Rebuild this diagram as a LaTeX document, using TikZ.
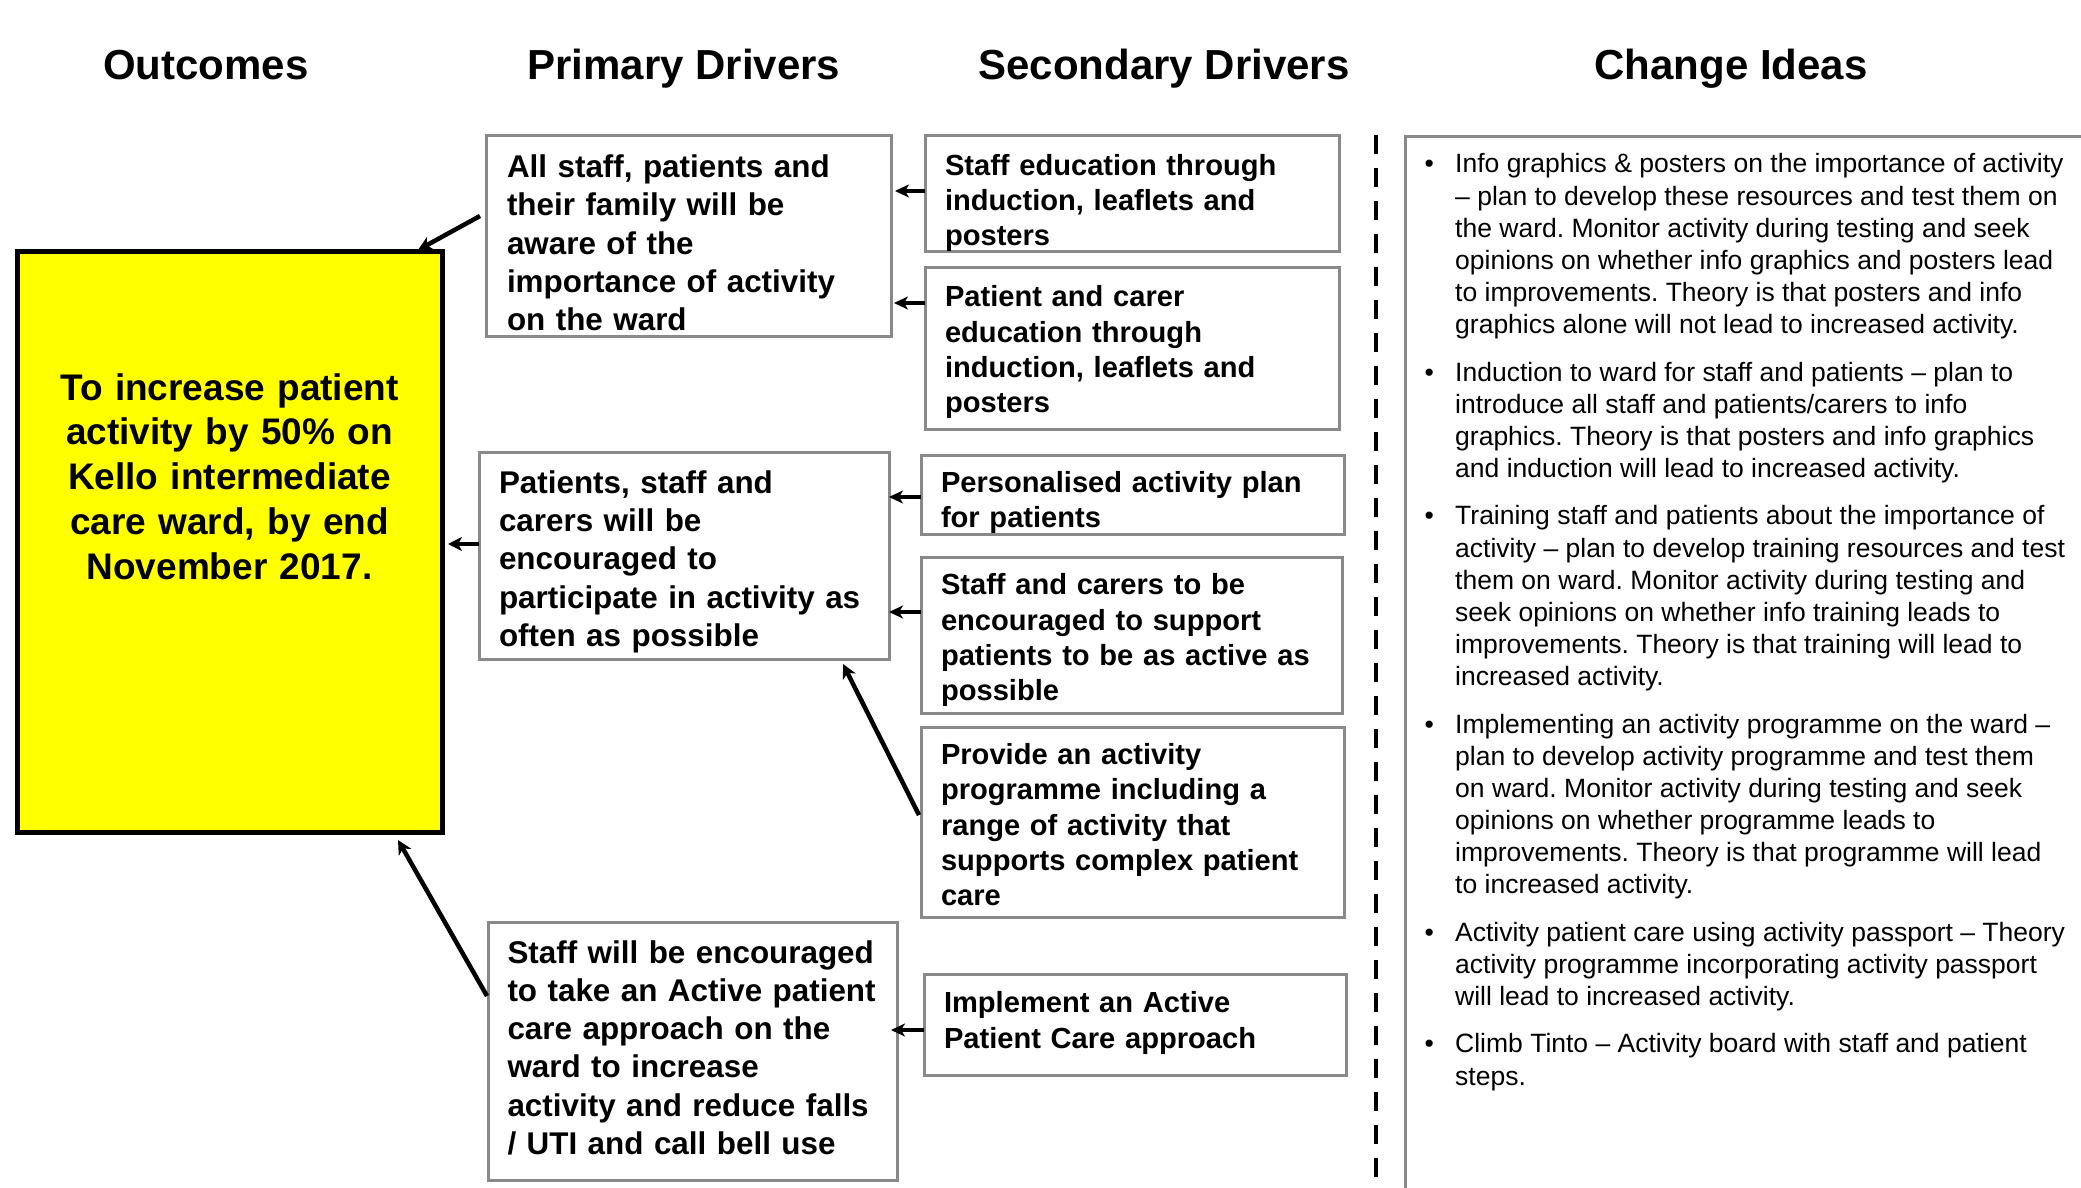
\documentclass[tikz,border=0pt]{standalone}
\usepackage{fontspec}
\setmainfont{Liberation Sans}
\usetikzlibrary{arrows.meta,calc}

\definecolor{boxgray}{RGB}{137,137,137}
\definecolor{goalyellow}{RGB}{255,255,0}

% text blocks: no hyphenation, single spaces after full stops
\newcommand{\plaintext}{\frenchspacing\hyphenpenalty=10000\exhyphenpenalty=10000}

\tikzset{
  heading/.style={font=\fontsize{42}{50}\selectfont\bfseries, anchor=base, inner sep=0pt},
  drvbox/.style={draw=boxgray, line width=3pt, fill=white, outer sep=0pt, align=left,
    inner ysep=0pt, text height=0pt},
  primary/.style={drvbox, font=\fontsize{31.4}{38.2}\selectfont\bfseries\plaintext},
  secondary/.style={drvbox, inner xsep=20pt, font=\fontsize{29.1}{35.2}\selectfont\bfseries\plaintext},
  goalbox/.style={draw=black, line width=5pt, fill=goalyellow, outer sep=0pt,
    minimum width=425pt, minimum height=581pt, inner ysep=0pt, inner xsep=10pt,
    text width=405pt, align=center, text height=0pt,
    font=\fontsize{37}{44.8}\selectfont\bfseries\plaintext},
  link/.style={line width=3.3pt, -{Stealth[length=14pt,width=13pt,inset=4pt]}},
  biglink/.style={line width=4.5pt, -{Stealth[length=14pt,width=14pt,inset=4pt]}},
}

\begin{document}
\begin{tikzpicture}[x=1pt,y=-1pt]
  % page frame
  \useasboundingbox (0,0) rectangle (2081,1188);
  \fill[white] (0,0) rectangle (2081,1188);
  \clip (0,0) rectangle (2081,1188);

  % column headings
  \node[heading] (hout) at (206,79.5) {Outcomes};
  \node[heading] (hpri) at (684,79.5) {Primary Drivers};
  \node[heading] (hsec) at (1164,79.5) {Secondary Drivers};
  \node[heading] (hchg) at (1731,79.5) {Change Ideas};

  % outcome
  \node[goalbox, text depth=282.8pt] (goal) at (229.5,541.5)
    {To increase patient\\activity by 50\% on\\Kello intermediate\\care ward, by end\\November 2017.};

  % primary drivers
  \node[primary, inner xsep=21pt, text width=363pt, minimum height=200pt, text depth=116.6pt]
    (p1) at (688.5,236)
    {All staff, patients and\\their family will be\\aware of the\\importance of activity\\on the ward};
  \node[primary, inner xsep=20pt, text width=370pt, minimum height=207pt, text depth=124pt]
    (p2) at (684,555.5)
    {Patients, staff and\\carers will be\\encouraged to\\participate in activity as\\often as possible};
  \node[primary, inner xsep=19.5pt, text width=370pt, minimum height=258pt, text depth=175.4pt]
    (p3) at (692.5,1051)
    {Staff will be encouraged\\to take an Active patient\\care approach on the\\ward to increase\\activity and reduce falls\\/ UTI and call bell use};

  % secondary drivers
  \node[secondary, text width=374pt, minimum height=115pt, text depth=36.2pt] (s1) at (1132,193.5)
    {Staff education through\\induction, leaflets and\\posters};
  \node[secondary, text width=374pt, minimum height=162pt, text depth=82.4pt] (s2) at (1132,348)
    {Patient and carer\\education through\\induction, leaflets and\\posters};
  \node[secondary, text width=383pt, minimum height=79pt, text depth=3.8pt] (s3) at (1132.5,494.5)
    {Personalised activity plan\\for patients};
  \node[secondary, text width=381pt, minimum height=156pt, text depth=80.4pt] (s4) at (1131.5,635)
    {Staff and carers to be\\encouraged to support\\patients to be as active as\\possible};
  \node[secondary, text width=383pt, minimum height=190pt, text depth=114.8pt] (s5) at (1132.5,822)
    {Provide an activity\\programme including a\\range of activity that\\supports complex patient\\care};
  \node[secondary, text width=382pt, minimum height=101pt, text depth=23.4pt] (s6) at (1135,1024.5)
    {Implement an Active\\Patient Care approach};

  % divider between drivers and change ideas
  \coordinate (divtop) at (1376,135);
  \coordinate (divbot) at (1376,1200);
  \draw[line width=4.5pt, dash pattern=on 19pt off 14pt] (divtop) -- (divbot);

  % change ideas panel
  \node[draw=boxgray, line width=3pt, outer sep=0pt, inner sep=0pt, anchor=north west,
    minimum width=800pt, minimum height=1200pt] (ideasbox) at (1405,137) {};
  \node[anchor=base west, inner sep=0pt, font=\fontsize{26.5}{32.1}\selectfont\plaintext]
    (ideas) at (1424.5,173)
  {\begin{tabular}[t]{@{}p{30.5pt}@{}l@{}}
    \textbullet & Info graphics \& posters on the importance of activity\\
     & -- plan to develop these resources and test them on\\
     & the ward. Monitor activity during testing and seek\\
     & opinions on whether info graphics and posters lead\\
     & to improvements. Theory is that posters and info\\
     & graphics alone will not lead to increased activity.\\[15.5pt]
    \textbullet & Induction to ward for staff and patients -- plan to\\
     & introduce all staff and patients/carers to info\\
     & graphics. Theory is that posters and info graphics\\
     & and induction will lead to increased activity.\\[15.5pt]
    \textbullet & Training staff and patients about the importance of\\
     & activity -- plan to develop training resources and test\\
     & them on ward. Monitor activity during testing and\\
     & seek opinions on whether info training leads to\\
     & improvements. Theory is that training will lead to\\
     & increased activity.\\[15.5pt]
    \textbullet & Implementing an activity programme on the ward --\\
     & plan to develop activity programme and test them\\
     & on ward. Monitor activity during testing and seek\\
     & opinions on whether programme leads to\\
     & improvements. Theory is that programme will lead\\
     & to increased activity.\\[15.5pt]
    \textbullet & Activity patient care using activity passport -- Theory\\
     & activity programme incorporating activity passport\\
     & will lead to increased activity.\\[15.5pt]
    \textbullet & Climb Tinto -- Activity board with staff and patient\\
     & steps.
  \end{tabular}};

  % primary drivers -> outcome
  \draw[biglink] ([xshift=-6pt,yshift=20pt]p1.west) -- ([xshift=-24pt,yshift=1pt]goal.north east);
  \coordinate (a2s) at ([yshift=11.5pt]p2.west);
  \draw[biglink, shorten >=6pt] (a2s) -- (a2s -| goal.east);
  \draw[biglink] ([xshift=-1pt,yshift=55pt]p3.west) -- ([xshift=-44pt,yshift=-8pt]goal.south east);

  % secondary drivers -> primary drivers
  \coordinate (b1) at ([yshift=2.5pt]s1.west);
  \draw[link, shorten >=4pt] (b1) -- (b1 -| p1.east);
  \coordinate (b2) at ([yshift=45pt]s2.west);
  \draw[link, shorten >=3pt] (b2) -- (b2 -| p1.east);
  \coordinate (b3) at ([yshift=-2.5pt]s3.west);
  \draw[link] (b3) -- (b3 -| p2.east);
  \coordinate (b4) at ([yshift=23pt]s4.west);
  \draw[link] (b4) -- (b4 -| p2.east);
  \draw[biglink] ([xshift=-2pt,yshift=7pt]s5.west) -- ([xshift=-46pt,yshift=-5pt]p2.south east);
  \coordinate (b6) at ([yshift=-5.5pt]s6.west);
  \draw[link, shorten >=-6pt] (b6) -- (b6 -| p3.east);
\end{tikzpicture}
\end{document}
